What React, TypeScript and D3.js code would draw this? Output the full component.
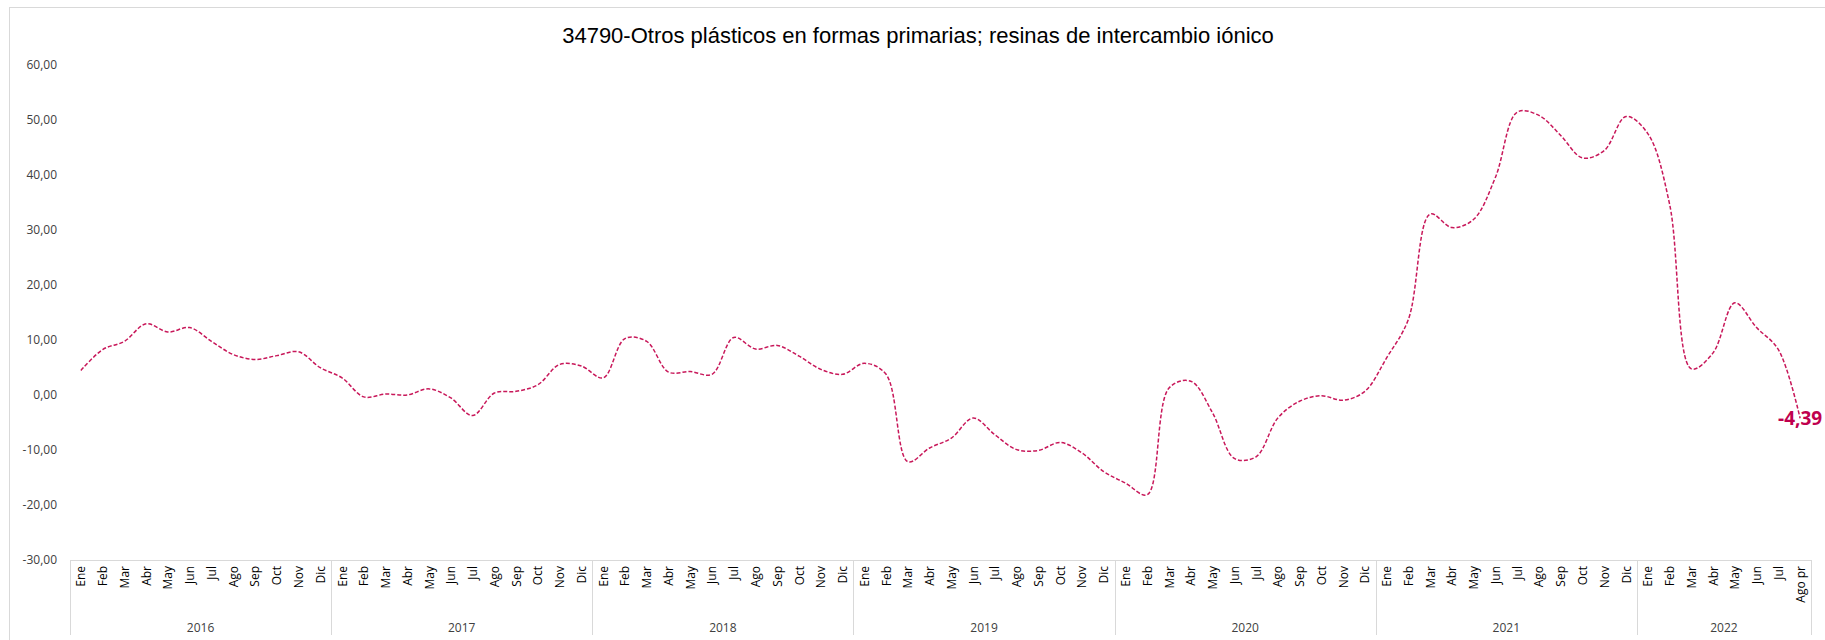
import React from "react";
import * as d3 from "d3";

const title = "34790-Otros plásticos en formas primarias; resinas de intercambio iónico";
const years = ["2016", "2017", "2018", "2019", "2020", "2021", "2022"];
const monthNames = ["Ene", "Feb", "Mar", "Abr", "May", "Jun", "Jul", "Ago", "Sep", "Oct", "Nov", "Dic"];
const months2022 = ["Ene", "Feb", "Mar", "Abr", "May", "Jun", "Jul", "Ago pr"];

const values2016 = [4.3, 8.1, 9.6, 12.8, 11.3, 12.1, 9.6, 7.2, 6.3, 7.0, 7.7, 4.8];
const values2017 = [2.95, -0.5, 0.0, -0.15, 0.95, -0.7, -3.9, 0.2, 0.5, 1.7, 5.4, 5.1];
const values2018 = [2.95, 10.1, 9.6, 4.0, 4.1, 3.6, 10.3, 8.2, 8.85, 6.9, 4.5, 3.6];
const values2019 = [5.6, 3.6, -12.3, -9.8, -8.0, -4.35, -7.4, -10.1, -10.25, -8.8, -10.7, -14.1];
const values2020 = [-16.2, -18.3, 1.1, 2.35, -3.4, -11.7, -11.4, -4.35, -1.3, -0.3, -1.1, 0.5];
const values2021 = [6.6, 13.6, 32.75, 30.3, 31.8, 39.45, 51.3, 50.7, 47.05, 42.97, 44.3, 50.5];
const values2022 = [47.4, 34.6, 4.6, 7.5, 16.6, 12.1, 8.1, -4.39];

const yTicks = [-30, -20, -10, 0, 10, 20, 30, 40, 50, 60];

const yearMonths: string[][] = years.map((y, i) => (i === years.length - 1 ? months2022 : monthNames));
const values = [...values2016, ...values2017, ...values2018, ...values2019, ...values2020, ...values2021, ...values2022];
const categories: { year: string; month: string; idx: number }[] = [];
yearMonths.forEach((ms, yi) => ms.forEach((m) => categories.push({ year: years[yi], month: m, idx: categories.length })));

const fmt = (v: number) => v.toFixed(2).replace(".", ",");

export default function App() {
  const W = 1825;
  const H = 640;
  const left = 70;
  const right = 1811;
  const axisY = 560;

  const x = d3
    .scaleBand<number>()
    .domain(categories.map((c) => c.idx))
    .range([left, right])
    .padding(0);
  const bw = x.bandwidth();
  const cx = (i: number) => (x(i) as number) + bw / 2;
  const y = d3.scaleLinear().domain([-30, 60]).range([559, 64.3]);

  const line = d3
    .line<number>()
    .x((_, i) => cx(i))
    .y((d) => y(d))
    .curve(d3.curveCatmullRom.alpha(0.5));

  const path = line(values) || "";

  const boundaries: number[] = [];
  let acc = 0;
  boundaries.push(x(0) as number);
  yearMonths.forEach((ms) => {
    acc += ms.length;
    boundaries.push(acc < categories.length ? (x(acc) as number) : right);
  });

  const lastIdx = values.length - 1;
  const tickFont = "'Open Sans', 'Noto Sans', sans-serif";

  return (
    <svg
      width={W}
      height={H}
      style={{ position: "absolute", left: 0, top: 0, display: "block", background: "#fff" }}
    >
      <rect x={9.5} y={7.5} width={W} height={H} fill="#fff" stroke="#d9d9d9" strokeWidth={1} />
      <text
        x={918}
        y={43}
        textAnchor="middle"
        fontFamily="'Liberation Sans', Arial, sans-serif"
        fontSize={22}
        fill="#000"
      >
        {title}
      </text>

      {yTicks.map((t) => (
        <text
          key={t}
          x={57}
          y={y(t)}
          textAnchor="end"
          dominantBaseline="central"
          fontFamily={tickFont}
          fontSize={12}
          fill="#404040"
        >
          {fmt(t)}
        </text>
      ))}

      <line x1={left} x2={right} y1={axisY + 0.5} y2={axisY + 0.5} stroke="#d9d9d9" strokeWidth={1} />
      {boundaries.map((b, i) => (
        <line key={i} x1={Math.round(b) + 0.5} x2={Math.round(b) + 0.5} y1={axisY} y2={635} stroke="#d9d9d9" strokeWidth={1} />
      ))}

      {categories.map((c) => (
        <text
          key={c.idx}
          transform={`translate(${cx(c.idx)},${566}) rotate(-90)`}
          textAnchor="end"
          dominantBaseline="central"
          fontFamily={tickFont}
          fontSize={12}
          fill="#000"
        >
          {c.month}
        </text>
      ))}

      {years.map((yr, i) => (
        <text
          key={yr}
          x={(boundaries[i] + boundaries[i + 1]) / 2}
          y={627}
          textAnchor="middle"
          dominantBaseline="central"
          fontFamily={tickFont}
          fontSize={12}
          fill="#404040"
        >
          {yr}
        </text>
      ))}

      <path d={path} fill="none" stroke="#C8185A" strokeWidth={1.5} strokeDasharray="4,2" />

      <text
        x={cx(lastIdx)}
        y={y(values[lastIdx])}
        textAnchor="middle"
        dominantBaseline="central"
        fontFamily={tickFont}
        fontWeight="bold"
        fontSize={19}
        fill="#C0004E"
      >
        {fmt(values[lastIdx])}
      </text>
    </svg>
  );
}
